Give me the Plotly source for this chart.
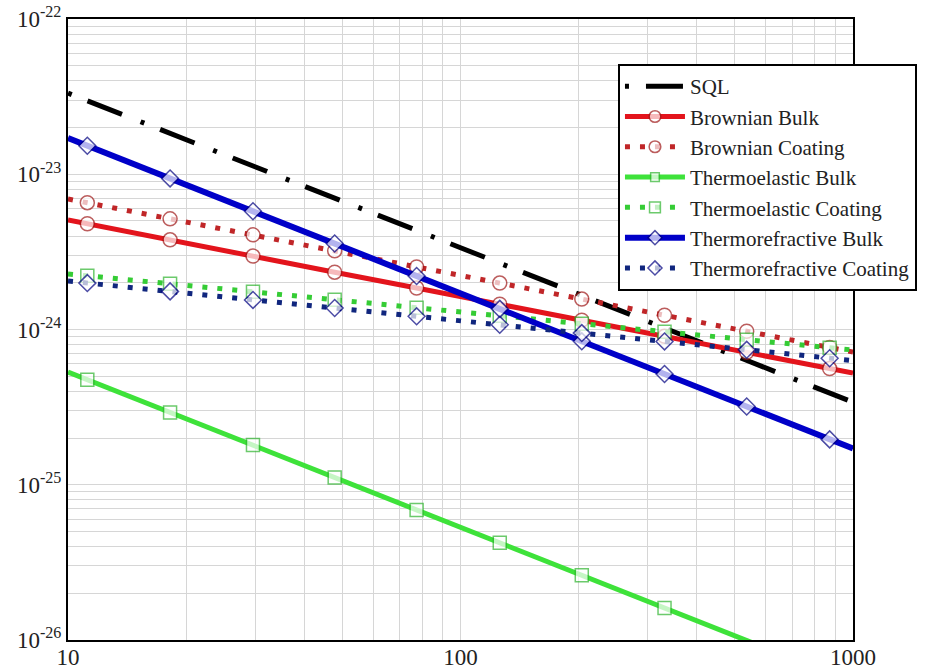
import plotly.graph_objects as go

# ---------------- data ----------------
freq = [10, 11.2, 18.2, 29.6, 47.8, 77.3, 125.9, 203.7, 331, 536, 872, 1000]

sql_freq = [10, 1000]
sql = [3.33e-23, 3.4e-25]

brownian_bulk = [5.07e-24, 4.80e-24, 3.78e-24, 2.97e-24, 2.34e-24, 1.85e-24,
                 1.455e-24, 1.148e-24, 9.04e-25, 7.13e-25, 5.60e-25, 5.24e-25]
brownian_coating = [6.93e-24, 6.56e-24, 5.16e-24, 4.07e-24, 3.21e-24, 2.53e-24,
                    1.99e-24, 1.57e-24, 1.236e-24, 9.75e-25, 7.66e-25, 7.16e-25]
thermoelastic_bulk = [5.32e-25, 4.75e-25, 2.92e-25, 1.80e-25, 1.114e-25, 6.88e-26,
                      4.23e-26, 2.61e-26, 1.607e-26, 9.9e-27, 6.1e-27, 5.32e-27]
thermoelastic_coating = [2.28e-24, 2.22e-24, 1.97e-24, 1.75e-24, 1.555e-24, 1.381e-24,
                         1.226e-24, 1.089e-24, 9.68e-25, 8.60e-25, 7.63e-25, 7.38e-25]
thermorefractive_bulk = [1.71e-23, 1.527e-23, 9.40e-24, 5.78e-24, 3.58e-24, 2.21e-24,
                         1.358e-24, 8.39e-25, 5.17e-25, 3.19e-25, 1.96e-25, 1.71e-25]
thermorefractive_coating = [2.05e-24, 1.99e-24, 1.76e-24, 1.55e-24, 1.375e-24, 1.216e-24,
                            1.072e-24, 9.48e-25, 8.38e-25, 7.40e-25, 6.53e-25, 6.31e-25]

# which points of `freq` carry a marker (1) or not (0)
marker_on = [0, 1, 1, 1, 1, 1, 1, 1, 1, 1, 1, 0]
marker_on_te_bulk = [0, 1, 1, 1, 1, 1, 1, 1, 1, 0, 0, 0]

x_tick_vals = [10, 100, 1000]
x_tick_text = ["10", "100", "1000"]
x_minor_vals = [20, 30, 40, 50, 60, 70, 80, 90, 200, 300, 400, 500, 600, 700,
                800, 900]
y_tick_vals = [1e-26, 1e-25, 1e-24, 1e-23, 1e-22]
y_tick_text = ["10<sup>-26</sup>", "10<sup>-25</sup>", "10<sup>-24</sup>",
               "10<sup>-23</sup>", "10<sup>-22</sup>"]
y_minor_vals = [m * 10.0 ** d for d in (-26, -25, -24, -23) for m in range(2, 10)]

# ---------------- figure ----------------
SERIF = "Liberation Serif"
GRID = "#d6d6d6"
fig = go.Figure()

fig.add_trace(go.Scatter(
    x=sql_freq, y=sql, mode="lines", name="SQL", legendgroup="g0",
    line=dict(color="black", width=5, dash="4px,17px,37px,20px")))


def add_series(name, ys, group, line_color, dash, width, symbol, mcolor, msize,
               on):
    fig.add_trace(go.Scatter(
        x=freq, y=ys, mode="lines+markers", name=name, legendgroup=group,
        line=dict(color=line_color, width=width, dash=dash),
        marker=dict(symbol=symbol, size=[msize * o for o in on], color="white",
                    line=dict(color=mcolor, width=1.5))))


add_series("Brownian Bulk", brownian_bulk, "g1", "#e3141c", "solid", 5,
           "circle", "#a01a1a", 14, marker_on)
add_series("Brownian Coating", brownian_coating, "g2", "#c02628", "5px,10px", 5,
           "circle", "#a01a1a", 14, marker_on)
add_series("Thermoelastic Bulk", thermoelastic_bulk, "g3", "#3ee23a", "solid", 5,
           "square", "#2fb52f", 13, marker_on_te_bulk)
add_series("Thermoelastic Coating", thermoelastic_coating, "g4", "#35cc35",
           "5px,10px", 5, "square", "#2fb52f", 13, marker_on)
add_series("Thermorefractive Bulk", thermorefractive_bulk, "g5", "#0000c8",
           "solid", 6, "diamond", "#000080", 13, marker_on)
add_series("Thermorefractive Coating", thermorefractive_coating, "g6", "#10267e",
           "5px,10px", 5, "diamond", "#000080", 13, marker_on)

axis_common = dict(showline=True, linecolor="black", linewidth=2, mirror=True,
                   showgrid=True, gridcolor=GRID, gridwidth=1, ticks="",
                   zeroline=False,
                   tickfont=dict(family=SERIF, size=23, color="#222222"))

fig.update_layout(
    width=942, height=671,
    margin=dict(l=68, r=89, t=19, b=31, autoexpand=False),
    paper_bgcolor="white", plot_bgcolor="white",
    xaxis=dict(type="log", range=[1, 3], tickvals=x_tick_vals,
               ticktext=x_tick_text, ticklabelstandoff=-5,
               minor=dict(tickvals=x_minor_vals, showgrid=True, gridcolor=GRID,
                          gridwidth=1, ticks=""),
               **axis_common),
    yaxis=dict(type="log", range=[-26, -22], tickvals=y_tick_vals,
               ticktext=y_tick_text,
               minor=dict(tickvals=y_minor_vals, showgrid=True, gridcolor=GRID,
                          gridwidth=1, ticks=""),
               **axis_common),
    legend=dict(x=0.7006, y=0.9275, xanchor="left", yanchor="top",
                bgcolor="white", bordercolor="black", borderwidth=2,
                font=dict(family=SERIF, size=21, color="#222222"),
                itemwidth=60, tracegroupgap=0, traceorder="grouped"),
    showlegend=True,
)

fig.write_html(
    "out.html",
    config={"displayModeBar": False},
    post_script="document.body.style.margin='0';"
                "document.body.style.overflow='hidden';")
